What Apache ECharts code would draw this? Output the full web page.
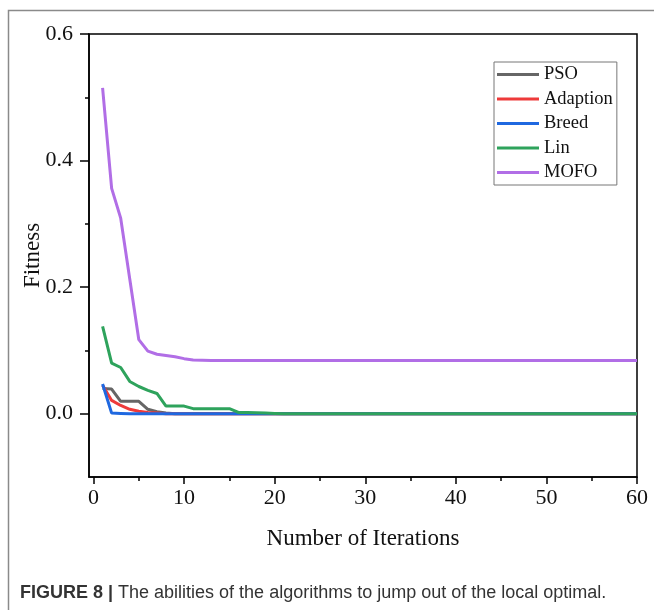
<!DOCTYPE html>
<html>
<head>
<meta charset="utf-8">
<script src="https://cdn.jsdelivr.net/npm/echarts@6/dist/echarts.min.js"></script>
<style>
html,body{margin:0;padding:0;background:#fff;}
#chart{width:654px;height:610px;}
</style>
</head>
<body>
<div id="chart"></div>
<script>
// ---- data ----
const iterations = Array.from({length: 60}, (_, i) => i + 1);
const seriesNames = ['PSO', 'Adaption', 'Breed', 'Lin', 'MOFO'];
function pad(head, tail, n) { const a = head.slice(); while (a.length < n) a.push(tail); return a; }
const psoValues = pad([0.040, 0.039, 0.0195, 0.0195, 0.0195, 0.007, 0.003, 0.001], 0, 60);
const adaptionValues = pad([0.045, 0.021, 0.013, 0.007, 0.004, 0.002, 0.001], 0, 60);
const breedValues = pad([0.047, 0.001, 0.0005], 0, 60);
const linValues = pad([0.138, 0.080, 0.073, 0.051, 0.043, 0.037, 0.032, 0.012, 0.012, 0.012,
  0.008, 0.008, 0.008, 0.008, 0.008, 0.002, 0.002, 0.0015, 0.001, 0.0005], 0, 60);
const mofoValues = pad([0.515, 0.356, 0.309, 0.213, 0.117, 0.099, 0.094, 0.092, 0.090, 0.087,
  0.085, 0.0845], 0.084, 60);
const xMajorTicks = [0, 10, 20, 30, 40, 50, 60];
const xMinorTicks = [5, 15, 25, 35, 45, 55];
const yMajorTicks = [0, 0.2, 0.4, 0.6];
const yMinorTicks = [0.1, 0.3, 0.5];
const colors = ['#666666', '#ee3a3a', '#1f68e0', '#2ea35c', '#b16ee6'];
const allValues = [psoValues, adaptionValues, breedValues, linValues, mofoValues];

const serif = '"Liberation Serif", "Times New Roman", serif';
const sans = '"Liberation Sans", Arial, sans-serif';
const chart = echarts.init(document.getElementById('chart'), null, {renderer: 'canvas'});

const series = seriesNames.map((name, k) => ({
  name: name,
  type: 'line',
  xAxisIndex: 0, yAxisIndex: 0,
  symbol: 'none',
  data: iterations.map((x, i) => [x, allValues[k][i]]),
  lineStyle: {color: colors[k], width: 3},
  itemStyle: {color: colors[k]},
  z: 2 + k,
  animation: false
}));

const option = {
  animation: false,
  backgroundColor: '#fff',
  grid: {left: 89, top: 34, right: 17, bottom: 133, show: true, borderColor: '#000', borderWidth: 1.5, containLabel: false},
  legend: {
    orient: 'vertical',
    left: 494, top: 62,
    width: 122,
    padding: [3, 4, 3, 3],
    itemGap: 5.5,
    itemWidth: 42, itemHeight: 3,
    icon: 'rect',
    borderColor: '#777', borderWidth: 1,
    textStyle: {fontFamily: serif, fontSize: 18.5, color: '#111', lineHeight: 18},
    data: seriesNames
  },
  xAxis: [{
    type: 'value', min: -0.5, max: 60,
    axisLine: {show: true, onZero: false, lineStyle: {color: '#000', width: 1.5}},
    axisTick: {show: true, inside: false, length: 7, customValues: xMajorTicks, lineStyle: {color: '#000', width: 1.5}},
    axisLabel: {show: true, customValues: xMajorTicks, margin: 10, fontFamily: serif, fontSize: 22, color: '#111'},
    splitLine: {show: false},
    name: 'Number of Iterations', nameLocation: 'middle', nameGap: 50, nameMoveOverlap: false,
    nameTextStyle: {fontFamily: serif, fontSize: 23, color: '#111'}
  }, {
    type: 'value', min: -0.5, max: 60, position: 'bottom',
    axisLine: {show: false, onZero: false},
    axisTick: {show: true, length: 4, customValues: xMinorTicks, lineStyle: {color: '#000', width: 1.5}},
    axisLabel: {show: false},
    splitLine: {show: false}
  }],
  yAxis: [{
    type: 'value', min: -0.1, max: 0.6,
    axisLine: {show: true, onZero: false, lineStyle: {color: '#000', width: 1.5}},
    axisTick: {show: true, inside: false, length: 9, customValues: yMajorTicks, lineStyle: {color: '#000', width: 1.5}},
    axisLabel: {show: true, customValues: yMajorTicks, margin: 16, fontFamily: serif, fontSize: 22, color: '#111',
      formatter: v => v.toFixed(1)},
    splitLine: {show: false},
    name: 'Fitness', nameLocation: 'middle', nameGap: 45, nameRotate: 90, nameMoveOverlap: false,
    nameTextStyle: {fontFamily: serif, fontSize: 23, color: '#111'}
  }, {
    type: 'value', min: -0.1, max: 0.6, position: 'left',
    axisLine: {show: false, onZero: false},
    axisTick: {show: true, length: 4, customValues: yMinorTicks, lineStyle: {color: '#000', width: 1.5}},
    axisLabel: {show: false},
    splitLine: {show: false}
  }],
  graphic: [{
    type: 'rect', left: 6, top: 8, silent: true,
    shape: {x: 0, y: 0, width: 700, height: 700},
    style: {fill: null, stroke: '#8a8a8a', lineWidth: 1.5}
  }, {
    type: 'text', left: 20, top: 584,
    style: {
      text: '{b|FIGURE 8 |} The abilities of the algorithms to jump out of the local optimal.',
      rich: {
        b: {fontFamily: sans, fontSize: 18, fontWeight: 'bold', fill: '#333'}
      },
      fontFamily: sans, fontSize: 18, fill: '#333'
    }
  }],
  series: series
};
chart.setOption(option);
</script>
</body>
</html>
